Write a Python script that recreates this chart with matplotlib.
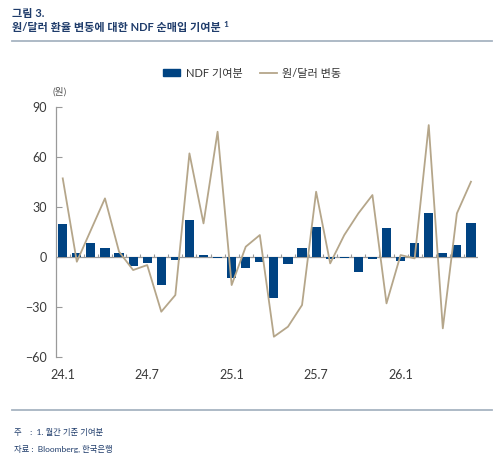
import numpy as np
import matplotlib
matplotlib.use("Agg")
import matplotlib.pyplot as plt
from matplotlib.patches import Patch
from matplotlib.lines import Line2D

plt.rcParams['font.family'] = ['Lato', 'Noto Sans CJK KR', 'DejaVu Sans']

# 월별 데이터 (24.1 ~ 26.6)
months = ['24.1', '24.2', '24.3', '24.4', '24.5', '24.6', '24.7', '24.8', '24.9', '24.10',
          '24.11', '24.12', '25.1', '25.2', '25.3', '25.4', '25.5', '25.6', '25.7', '25.8',
          '25.9', '25.10', '25.11', '25.12', '26.1', '26.2', '26.3', '26.4', '26.5', '26.6']
ndf = [19.5, 2.5, 8, 5, 2, -5.5, -4, -17, -2, 22,
       0.8, -1, -12.5, -7, -3, -25, -4.5, 5, 18, -1.5,
       -0.5, -9, -1.5, 17, -2.5, 8.5, 26, 2, 7, 20.5]
krw = [47, -3, 16, 35, 3, -8, -5, -33, -23, 62,
       20, 75, -17, 6, 13, -48, -42, -29, 39, -4,
       13, 26, 37, -28, 1, -1, 79, -43, 26, 45]
tick_labels = ['24.1', '24.7', '25.1', '25.7', '26.1']
yticks = [90, 60, 30, 0, -30, -60]

navy = '#004382'
tan = '#B5A68A'
grey = '#9A9A9A'
text_blue = '#1F3C6B'

x = np.arange(len(months))

fig = plt.figure(figsize=(5, 4.62), dpi=100)
ax = fig.add_axes([0.1114, 0.2279, 0.8446, 0.5411])

ax.bar(x, ndf, width=0.65, color=navy, zorder=2)
ax.plot(x, krw, color=tan, lw=1.3, zorder=3)

# 0 기준선과 월 구분 눈금
ax.axhline(0, color=grey, lw=0.9, zorder=1)
ax.vlines(x[:-1] + 0.5, 0, 1.8, color=grey, lw=0.8, zorder=1)

ax.set_xlim(-0.5, len(months) - 0.5)
ax.set_ylim(-60, 90)
ax.set_yticks(yticks)
ax.set_xticks([months.index(t) for t in tick_labels])
ax.set_xticklabels(tick_labels)

for s in ['top', 'right', 'bottom']:
    ax.spines[s].set_visible(False)
ax.spines['left'].set_color(grey)
ax.spines['left'].set_linewidth(0.9)
ax.tick_params(axis='y', direction='in', length=4, color=grey, labelsize=9,
               labelcolor='#3a3a3a', pad=6)
ax.tick_params(axis='x', length=0, labelsize=9, labelcolor='#3a3a3a', pad=9)

ax.text(0.01, 1.058, '(원)', transform=ax.transAxes, ha='center', va='center',
        fontsize=7, color='#555555')

# 범례
handles = [Patch(color=navy), Line2D([], [], color=tan, lw=1.3)]
fig.legend(handles, ['NDF 기여분', '원/달러 변동'], loc='center',
           bbox_to_anchor=(0.505, 1 - 73 / 462), ncol=2, frameon=False,
           fontsize=8, handlelength=1.5, handleheight=0.55, columnspacing=1.6,
           handletextpad=0.5, labelcolor='#333333')

# 제목
fig.text(12 / 500, 1 - 13 / 462, '그림 3.', fontsize=8, fontweight='bold',
         color=text_blue, va='center')
t = fig.text(12 / 500, 1 - 28 / 462, '원/달러 환율 변동에 대한 NDF 순매입 기여분',
             fontsize=8, fontweight='bold', color=text_blue, va='center')
plt.annotate('1', xy=(1, 1), xycoords=t, xytext=(2, 1), textcoords='offset points',
             va='top', ha='left', fontsize=6, fontweight='bold', color=text_blue)

# 구분선
for yy in [41, 410]:
    fig.add_artist(Line2D([12 / 500, 492 / 500], [1 - yy / 462] * 2,
                          color='#A7B4C2', lw=1.3))

# 주석
fig.text(14 / 500, 1 - 432 / 462, '주    :  1. 월간 기준 기여분', fontsize=6,
         color=text_blue, va='center')
fig.text(14 / 500, 1 - 449 / 462, '자료 :  Bloomberg, 한국은행', fontsize=6,
         color=text_blue, va='center')

fig.savefig('out.png', dpi=100)
